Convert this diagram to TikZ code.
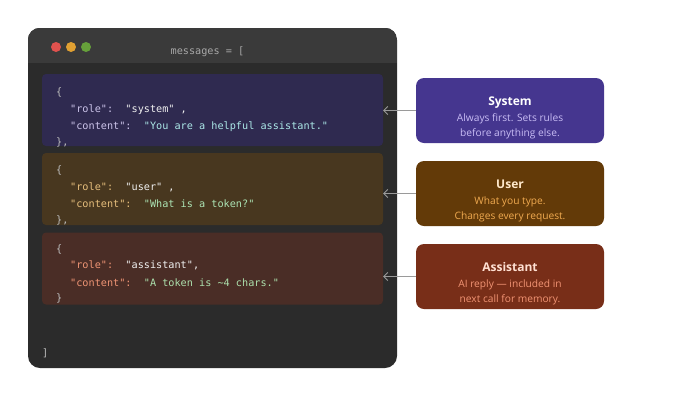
\documentclass[tikz,border=0pt]{standalone}
\usepackage{fontspec}
\setsansfont{Open Sans}
\newfontfamily\codefont{DejaVu Sans Mono}
\usetikzlibrary{arrows.meta}

\definecolor{winbody}{HTML}{2B2B2B}
\definecolor{winbar}{HTML}{3A3A3A}
\definecolor{dotred}{HTML}{E0524E}
\definecolor{dotyellow}{HTML}{E0A032}
\definecolor{dotgreen}{HTML}{66A03A}
\definecolor{titlegray}{HTML}{A8A8A8}
\definecolor{brace}{HTML}{BBBBBB}
\definecolor{val}{HTML}{F0F0F0}
\definecolor{sysfill}{HTML}{2F2A50}
\definecolor{userfill}{HTML}{48371F}
\definecolor{asstfill}{HTML}{4A2D26}
\definecolor{syskey}{HTML}{CCC4EA}
\definecolor{userkey}{HTML}{E6BE7C}
\definecolor{asstkey}{HTML}{EE9474}
\definecolor{syscontent}{HTML}{ACE8E8}
\definecolor{usercontent}{HTML}{ACE4B4}
\definecolor{asstcontent}{HTML}{ACE0AC}
\definecolor{sysnote}{HTML}{45368F}
\definecolor{usernote}{HTML}{633A08}
\definecolor{asstnote}{HTML}{782E18}
\definecolor{systitle}{HTML}{FFFFFF}
\definecolor{usertitle}{HTML}{FFE9CC}
\definecolor{assttitle}{HTML}{FFE0D2}
\definecolor{sysdesc}{HTML}{C8BCF4}
\definecolor{userdesc}{HTML}{F0AA50}
\definecolor{asstdesc}{HTML}{F29474}
\definecolor{arrowgray}{HTML}{9A9A9A}

\begin{document}
\begin{tikzpicture}[x=1pt, y=-1pt,
  code/.style={anchor=west, inner sep=0pt, text height=7pt, text depth=2pt, yshift=-2pt,
    font=\codefont\fontsize{10.2}{12}\selectfont, text=brace},
  block/.style={rounded corners=4pt, minimum width=341pt, minimum height=72pt, inner sep=0pt},
  note/.style={rounded corners=8pt, minimum width=188pt, minimum height=65pt, inner sep=0pt},
  notetext/.style={align=center, inner sep=0pt, font=\sffamily\fontsize{10.2}{15.5}\selectfont},
  dot/.style={circle, minimum size=10pt, inner sep=0pt},
  arrow/.style={draw=arrowgray, line width=0.9pt, -{Straight Barb[length=4pt, width=8pt]}}]

\useasboundingbox (0,0) rectangle (680,397);

% window
\node[rounded corners=12pt, fill=winbody, minimum width=369pt, minimum height=340pt, inner sep=0pt] (win) at (212.5,198) {};
\begin{scope}
  \clip[rounded corners=12pt] (win.north west) rectangle (win.south east);
  \fill[winbar] (win.north west) rectangle ([yshift=-35pt]win.north east);
\end{scope}
\node[dot, fill=dotred] (red) at (56,47) {};
\node[dot, fill=dotyellow] (yellow) at (71,47) {};
\node[dot, fill=dotgreen] (green) at (86,47) {};
\node[font=\codefont\fontsize{10.2}{12}\selectfont, text=titlegray] (title) at (207.5,51.5) {messages = [};

% message blocks
\node[block, fill=sysfill] (sysblk) at (212.5,110) {};
\node[block, fill=userfill] (userblk) at (212.5,189) {};
\node[block, fill=asstfill] (asstblk) at (212.5,268.5) {};

\node[code] (sys1) at (56,91) {\{};
\node[code] (sys2) at (70,108) {\textcolor{syskey}{"role":}\ \ \textcolor{val}{"system"}\ \textcolor{val}{,}};
\node[code] (sys3) at (70,125) {\textcolor{syskey}{"content":}\ \ \textcolor{syscontent}{"You are a helpful assistant."}};
\node[code] (sys4) at (56,141) {\},};

\node[code] (user1) at (56,169) {\{};
\node[code] (user2) at (70,186) {\textcolor{userkey}{"role":}\ \ \textcolor{val}{"user"}\ \textcolor{val}{,}};
\node[code] (user3) at (70,203) {\textcolor{userkey}{"content":}\ \ \textcolor{usercontent}{"What is a token?"}};
\node[code] (user4) at (56,219) {\},};

\node[code] (asst1) at (56,248) {\{};
\node[code] (asst2) at (70,264) {\textcolor{asstkey}{"role":}\ \ \textcolor{val}{"assistant",}};
\node[code] (asst3) at (70,282) {\textcolor{asstkey}{"content":}\ \ \textcolor{asstcontent}{"A token is \textasciitilde4 chars."}};
\node[code] (asst4) at (56,297) {\}};

\node[code] (close) at (42,352) {]};

% role notes
\node[note, fill=sysnote] (sysbox) at (510,110.5) {};
\node[notetext] (systxt) at (510,118) {\textcolor{systitle}{\bfseries\fontsize{12}{15}\selectfont System}\\
  \textcolor{sysdesc}{Always first. Sets rules}\\ \textcolor{sysdesc}{before anything else.}};
\node[note, fill=usernote] (userbox) at (510,193.5) {};
\node[notetext] (usertxt) at (510,201) {\textcolor{usertitle}{\bfseries\fontsize{12}{15}\selectfont User}\\
  \textcolor{userdesc}{What you type.}\\ \textcolor{userdesc}{Changes every request.}};
\node[note, fill=asstnote] (asstbox) at (510,276.5) {};
\node[notetext] (assttxt) at (510,284) {\textcolor{assttitle}{\bfseries\fontsize{12}{15}\selectfont Assistant}\\
  \textcolor{asstdesc}{AI reply — included in}\\ \textcolor{asstdesc}{next call for memory.}};

\draw[arrow] (sysbox.west) -- (sysbox.west -| sysblk.east);
\draw[arrow] (userbox.west) -- (userbox.west -| userblk.east);
\draw[arrow] (asstbox.west) -- (asstbox.west -| asstblk.east);
\end{tikzpicture}
\end{document}
